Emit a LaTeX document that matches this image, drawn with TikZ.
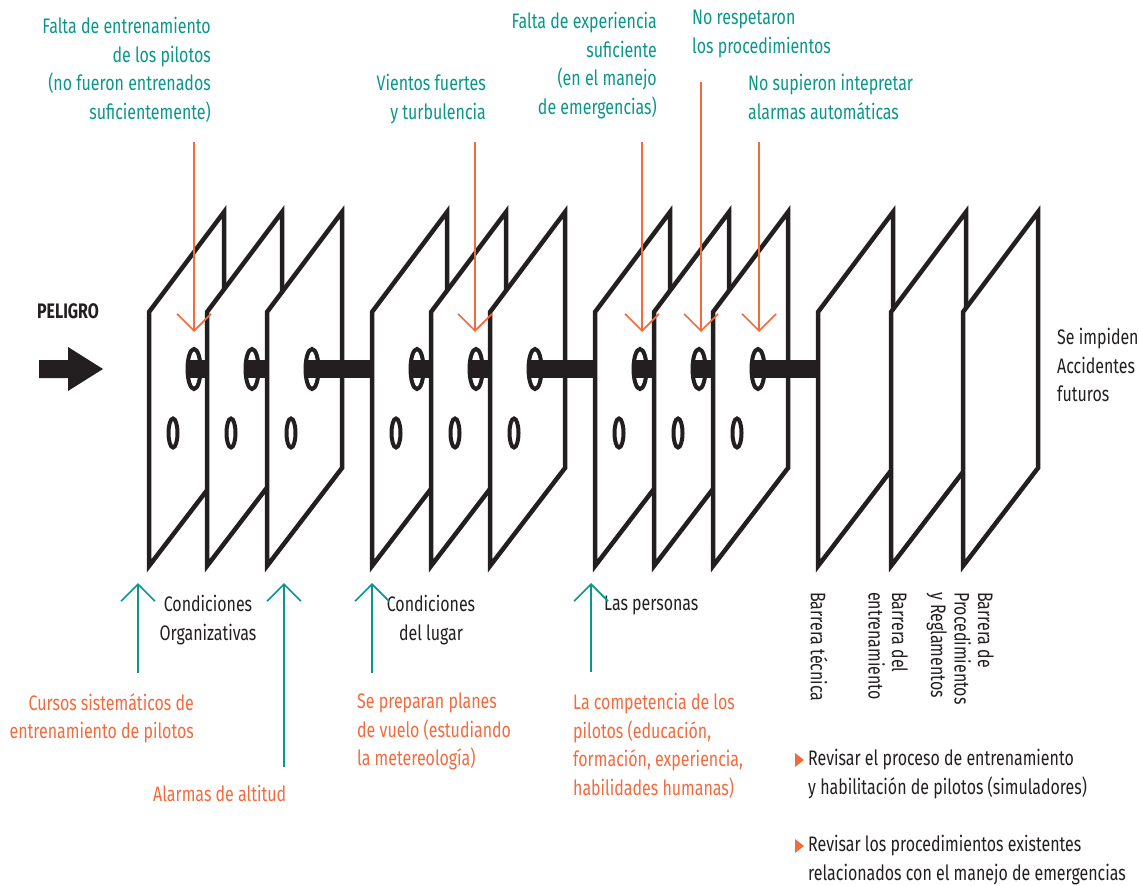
\documentclass[tikz,border=0pt]{standalone}
\usepackage{fontspec}
\setmainfont{Fira Sans}[FakeStretch=0.76]
\usetikzlibrary{arrows.meta}
\definecolor{verde}{RGB}{10,150,138}
\definecolor{naranja}{RGB}{242,106,61}
\definecolor{tinta}{RGB}{35,31,32}
\begin{document}
\begin{tikzpicture}[x=1pt,y=-1pt,
    placa/.style={draw=tinta, fill=white, line width=4.5pt, line join=miter},
    hueco/.style={draw=tinta, line width=4pt},
    eje/.style={draw=tinta, line width=18pt},
    fallo/.style={draw=naranja, line width=1.6pt, -{Straight Barb[length=17pt,width=34pt]}},
    defensa/.style={draw=verde, line width=1.6pt, -{Straight Barb[length=17pt,width=34pt]}},
    texto/.style={inner sep=0pt, font=\fontsize{21}{28.5}\selectfont, text=tinta},
    barrera/.style={texto, font=\fontsize{21}{23.5}\selectfont, rotate=-90, anchor=north west, align=left},
    causa/.style={texto, text=verde},
    medida/.style={texto, text=naranja}]
    \useasboundingbox (0,0) rectangle (1139,885);
    % peligro
    \node[texto, font=\fontsize{21}{28.5}\selectfont\bfseries] (peligro) at (68,311) {PELIGRO};
    \fill[tinta] (39,360) -- (68,360) -- (68,347) -- (103,369) -- (68,391) -- (68,378) -- (39,378) -- cycle;
    % placas con agujeros
    \foreach \L/\N in {149/207,207/267,267/372,372/431,431/490,490/595,595/654,654/713,713/818}{
        \draw[placa] (\L,312) -- (\L+75,212) -- (\L+75,468) -- (\L,566) -- cycle;
        \draw[eje] (\L+40,369) -- (\N+45,369);
        \draw[hueco] (\L+45,369) ellipse [x radius=6.5, y radius=20];
        \draw[hueco] (\L+24,433) ellipse [x radius=4.5, y radius=14.5];
    }
    % barreras
    \foreach \L in {818,891,963}
        \draw[placa] (\L,312) -- (\L+75,212) -- (\L+75,468) -- (\L,566) -- cycle;
    % causas
    \node[causa, anchor=north east, align=right] (c1) at (211,17) {Falta de entrenamiento\\de los pilotos\\(no fueron entrenados\\suficientemente)};
    \node[causa, anchor=north east, align=right] (c2) at (486,74) {Vientos fuertes\\y turbulencia};
    \node[causa, anchor=north east, align=right] (c3) at (657,12) {Falta de experiencia\\suficiente \\(en el manejo\\de emergencias)};
    \node[causa, anchor=north west, align=left] (c4) at (692,10) {No respetaron\\los procedimientos};
    \node[causa, anchor=north west, align=left] (c5) at (748,74) {No supieron intepretar\\alarmas automáticas};
    \coordinate (c1a) at (194,142); \coordinate (c1b) at (194,332);
    \coordinate (c2a) at (475,142); \coordinate (c2b) at (475,332);
    \coordinate (c3a) at (642,142); \coordinate (c3b) at (642,332);
    \coordinate (c4a) at (701,82);  \coordinate (c4b) at (701,332);
    \coordinate (c5a) at (759,142); \coordinate (c5b) at (759,332);
    \foreach \c in {c1,c2,c3,c4,c5}
        \draw[fallo] (\c a) -- (\c b);
    % condiciones
    \node[texto, anchor=north, align=center] (k1) at (208,595) {Condiciones\\Organizativas};
    \node[texto, anchor=north, align=center] (k2) at (431,595) {Condiciones\\del lugar};
    \node[texto, anchor=north west, align=left] (k3) at (604,596) {Las personas};
    % defensas
    \node[medida, anchor=north east, align=right] (d1) at (194,693) {Cursos sistemáticos de\\entrenamiento de pilotos};
    \node[medida, anchor=north west, align=left] (d2) at (153,785) {Alarmas de altitud};
    \node[medida, anchor=north west, align=left] (d3) at (357,693) {Se preparan planes\\de vuelo (estudiando\\la metereología)};
    \node[medida, anchor=north west, align=left] (d4) at (573,693) {La competencia de los\\pilotos (educación,\\formación, experiencia,\\habilidades humanas)};
    \coordinate (d1a) at (138,673); \coordinate (d1b) at (138,583);
    \coordinate (d2a) at (284,767); \coordinate (d2b) at (284,583);
    \coordinate (d3a) at (372,673); \coordinate (d3b) at (372,583);
    \coordinate (d4a) at (591,672); \coordinate (d4b) at (591,583);
    \foreach \d in {d1,d2,d3,d4}
        \draw[defensa] (\d a) -- (\d b);
    % nombres de las barreras
    \node[barrera] (b1) at (828,592) {Barrera técnica};
    \node[barrera] (b2) at (908,592) {Barrera del\\entrenamiento};
    \node[barrera] (b3) at (994,592) {Barrera de\\Procedimientos\\y Reglamentos};
    \node[texto, anchor=north west, align=left] (fin) at (1057,328) {Se impiden\\Accidentes\\futuros};
    % acciones
    \node[texto, anchor=north west, align=left] (r1) at (808,749) {Revisar el proceso de entrenamiento\\y habilitación de pilotos (simuladores)};
    \node[texto, anchor=north west, align=left] (r2) at (808,835) {Revisar los procedimientos existentes\\relacionados con el manejo de emergencias};
    \fill[naranja] (795,753) -- (804,760) -- (795,767) -- cycle;
    \fill[naranja] (795,839) -- (804,846) -- (795,853) -- cycle;
\end{tikzpicture}
\end{document}
